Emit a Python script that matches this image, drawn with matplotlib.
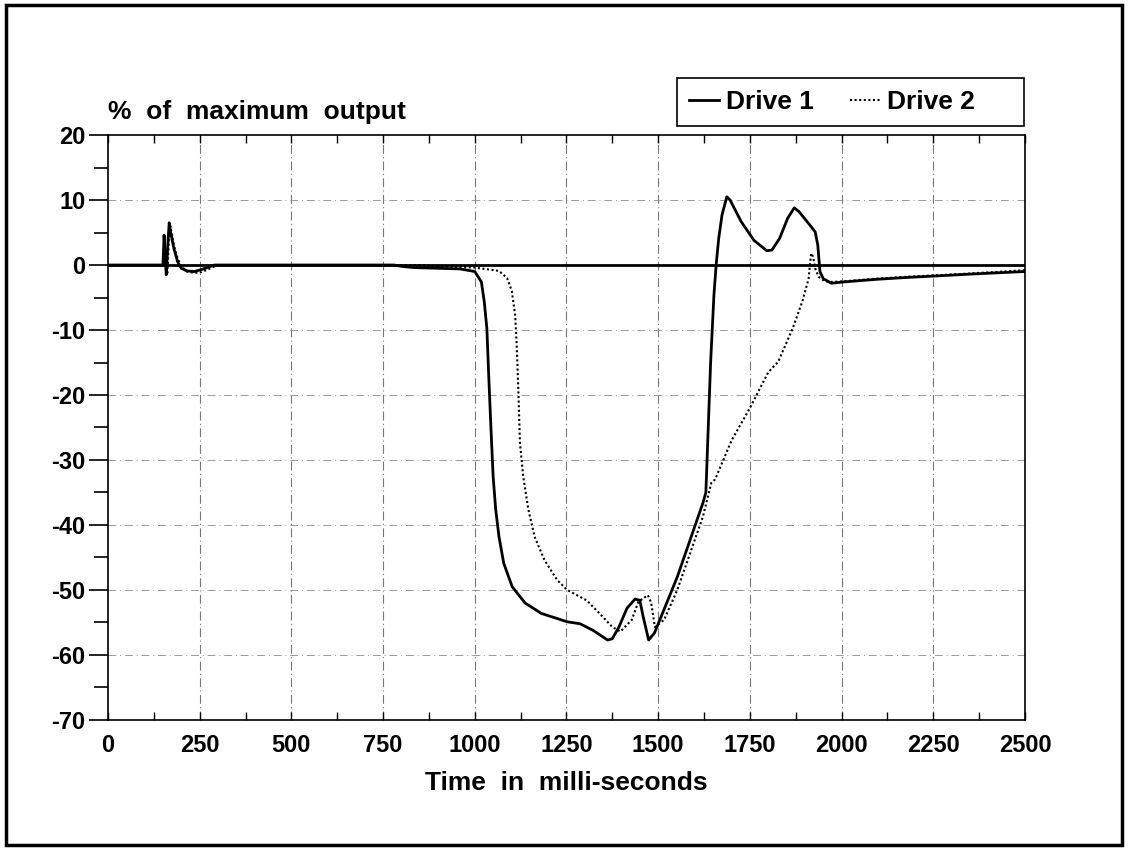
"""
Drive output response, % of maximum output vs time
"""
import matplotlib
matplotlib.use("Agg")
import matplotlib.pyplot as plt
from matplotlib.patches import Rectangle
from matplotlib.ticker import MultipleLocator

plt.rcParams["font.family"] = ["Liberation Sans", "DejaVu Sans"]
plt.rcParams["font.weight"] = "bold"
plt.rcParams["axes.unicode_minus"] = False

# Drive 1 (solid)
t_drive1 = [0, 150, 153, 156, 159, 163, 167, 171, 180, 190, 200, 215, 235, 255, 275, 290,
            780, 800, 835, 900, 960, 1000, 1018, 1026, 1033, 1038, 1044, 1050, 1057, 1066,
            1079, 1102, 1137, 1181, 1252, 1287, 1322, 1362, 1375, 1393, 1415, 1437, 1450,
            1459, 1474, 1490, 1516, 1552, 1622, 1630, 1643, 1652, 1658, 1665, 1674, 1687,
            1696, 1726, 1761, 1796, 1810, 1831, 1853, 1871, 1884, 1910, 1928, 1935, 1941,
            1950, 1972, 2007, 2095, 2182, 2252, 2350, 2500]
y_drive1 = [0, 0, 4.6, 1, -1.5, 3, 6.5, 5, 2.5, 0.5, -0.5, -0.9, -1.0, -0.7, -0.3, 0,
            0, -0.2, -0.4, -0.5, -0.6, -1, -2.6, -5.7, -9.8, -17, -25, -32.5, -37.6, -41.8,
            -45.9, -49.5, -52, -53.6, -54.9, -55.2, -56.2, -57.7, -57.5, -55.7, -52.8, -51.4, -51.6,
            -54.1, -57.7, -56.6, -53, -48, -36.6, -35, -14.9, -4.6, 0, 4.1, 7.7, 10.5,
            10, 6.7, 3.8, 2.2, 2.3, 4.1, 7.2, 8.8, 8.2, 6.4, 5.1, 3.1, -1,
            -2.1, -2.8, -2.6, -2.2, -1.9, -1.7, -1.4, -1.0]

# Drive 2 (dotted)
t_drive2 = [0, 150, 154, 158, 162, 166, 170, 180, 190, 200, 215, 235, 255, 275, 300,
            850, 900, 1000, 1066, 1088, 1101, 1110, 1114, 1119, 1123, 1132, 1146, 1163,
            1190, 1225, 1252, 1305, 1340, 1375, 1397, 1428, 1446, 1472, 1481, 1491, 1516,
            1552, 1622, 1645, 1655, 1670, 1700, 1750, 1800, 1827, 1867, 1893, 1910, 1917,
            1922, 1928, 1937, 1954, 1972, 2007, 2095, 2182, 2252, 2350, 2500]
y_drive2 = [0, 0, 4.0, 0.5, -1.2, 3.5, 6.0, 3.0, 1, -0.2, -1.0, -1.2, -1.1, -0.6, 0,
            0, -0.2, -0.4, -0.9, -2, -4, -7.7, -11.9, -19.6, -27.3, -32.5, -37.6, -41.8,
            -45.4, -48.5, -50, -51.6, -53.6, -55.7, -56.4, -54.6, -51.8, -50.8, -52, -55.7, -54.6,
            -50, -38.7, -33.5, -33, -31, -27, -22, -16.5, -14.9, -9.7, -5.6, -2.1, 1.8,
            1.3, -0.5, -1.8, -2.5, -2.6, -2.5, -2.1, -1.8, -1.6, -1.3, -0.8]

x_ticks = list(range(0, 2501, 250))
y_ticks = list(range(-70, 21, 10))

fig = plt.figure(figsize=(11.28, 8.52), dpi=100)
ax = fig.add_axes([0.0957, 0.155, 0.813, 0.6865])

# grid
for xv in x_ticks[1:-1]:
    ax.axvline(xv, color="#777777", lw=0.8, ls=(0, (8, 3, 1, 3)), zorder=1)
for yv in y_ticks[1:-1]:
    if yv != 0:
        ax.axhline(yv, color="#999999", lw=0.7, ls=(0, (8, 4, 1, 4)), zorder=1)
ax.axhline(0, color="black", lw=2, zorder=2)

ax.plot(t_drive1, y_drive1, color="black", lw=2, label="Drive 1", zorder=4)
ax.plot(t_drive2, y_drive2, color="black", lw=1.5, ls=(0, (1, 1.2)), label="Drive 2", zorder=3)

ax.set_xlim(0, 2500)
ax.set_ylim(-70, 20)
ax.set_xticks(x_ticks)
ax.set_yticks(y_ticks)
ax.xaxis.set_minor_locator(MultipleLocator(125))
ax.yaxis.set_minor_locator(MultipleLocator(5))
ax.tick_params(axis="y", which="major", direction="out", length=14, width=1.2,
               labelsize=17, pad=2)
ax.tick_params(axis="y", which="minor", direction="out", length=10, width=1.2)
ax.tick_params(axis="x", which="both", direction="in", length=6, width=1,
               labelsize=17, pad=10, top=True)
for lab in ax.get_xticklabels() + ax.get_yticklabels():
    lab.set_fontweight("bold")
for sp in ax.spines.values():
    sp.set_linewidth(1.2)

ax.set_xlabel("Time  in  milli-seconds", fontsize=19, fontweight="bold", labelpad=10)
fig.text(0.0957, 0.868, "%  of  maximum  output", fontsize=19, fontweight="bold",
         ha="left", va="center")

handles, labels = ax.get_legend_handles_labels()
labels[-1] = labels[-1] + "     "  # extra room at the right of the box
leg = fig.legend(handles, labels, loc="lower left", bbox_to_anchor=(0.600, 0.852),
                 ncol=2, fancybox=False, edgecolor="black", framealpha=1,
                 handlelength=1.15, handletextpad=0.25, columnspacing=1.4,
                 borderaxespad=0, borderpad=0.45,
                 prop={"size": 19, "weight": "bold"})
leg.get_frame().set_linewidth(1.2)

# outer frame
fig.patches.append(Rectangle((0.005, 0.008), 0.99, 0.986, transform=fig.transFigure,
                             fill=False, edgecolor="black", lw=2.5))

fig.savefig("out.png", dpi=100)
